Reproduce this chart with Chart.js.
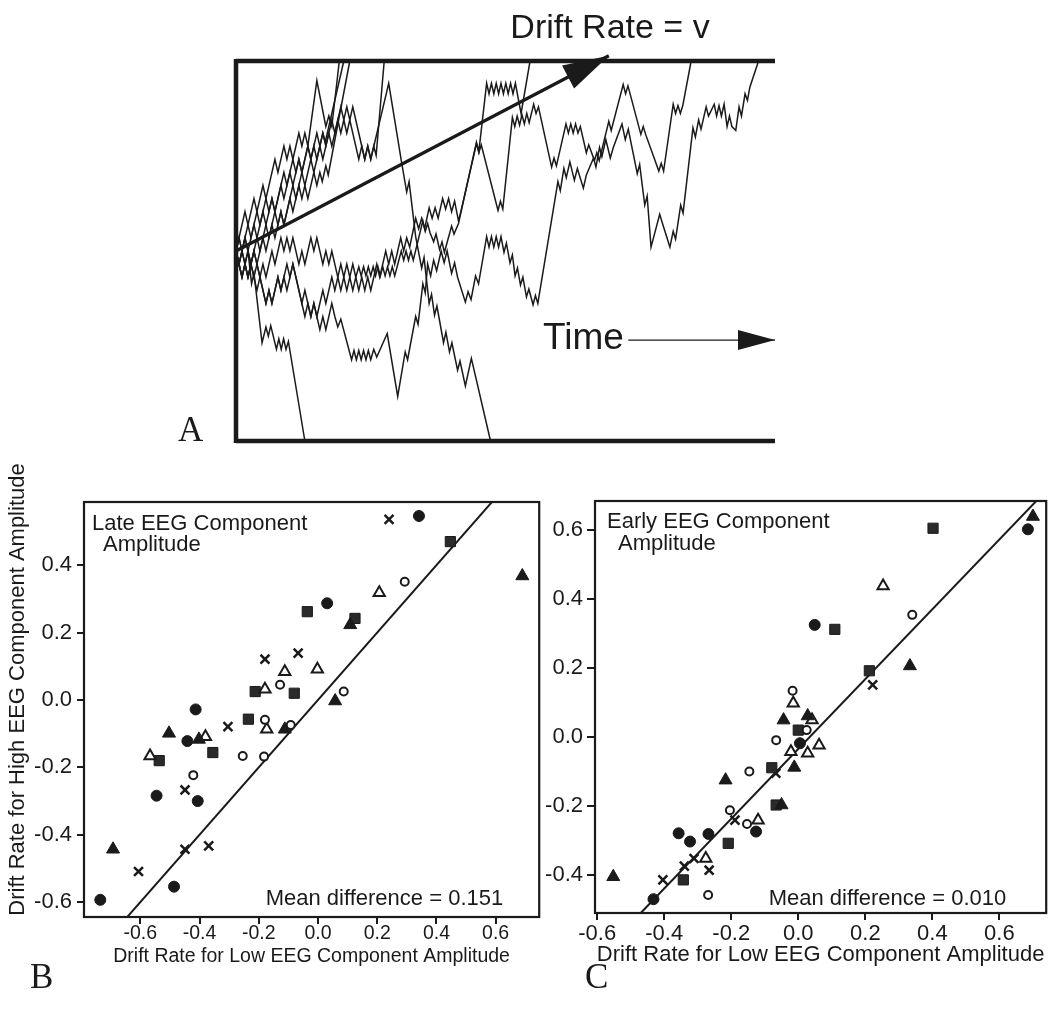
<!DOCTYPE html>
<html><head><meta charset="utf-8">
<script src="https://cdn.jsdelivr.net/npm/chart.js@4.4.1/dist/chart.umd.min.js"></script>
<style>
html,body{margin:0;padding:0;background:#fff;width:1055px;height:1010px;overflow:hidden}
.wrap{position:absolute}
.lbl{position:absolute;font-family:"Liberation Serif","Times New Roman",serif;font-size:35px;color:#1a1a1a;line-height:1}
</style></head><body>
<div class="wrap" style="left:226px;top:0;width:560px;height:460px"><canvas id="cA"></canvas></div>
<div class="wrap" style="left:0;top:440px;width:548px;height:540px"><canvas id="cB"></canvas></div>
<div class="wrap" style="left:545px;top:480px;width:510px;height:500px"><canvas id="cC"></canvas></div>
<div class="lbl" style="left:178px;top:412px">A</div>
<div class="lbl" style="left:30px;top:959px">B</div>
<div class="lbl" style="left:585px;top:959px">C</div>
<script>
// ---------------- Panel A: diffusion paths (time step, evidence step; bounds 0 and 29, start 14.5)
const pathA1 = [[0,14.5],[3,17.5],[4,16.5],[6,18.5],[7,17.5],[9,19.5],[10,18.5],[13,21.5],[14,20.5],[16,22.5],[17,21.5],[18,22.5],[19,21.5],[21,23.5],[22,22.5],[23,23.5],[24,22.5],[27,27.5],[30,24],[31,24.8],[32,24],[34.5,29]];
const pathA2 = [[0,14.5],[1,13.5],[3,15.5],[4,14.5],[7,17.5],[8,16.5],[10,18.5],[11,17.5],[12,18.5],[13,17.5],[16,20.5],[17,19.5],[19,21.5],[20,20.5],[21,21.5],[22,20.5],[24,22.5],[25,21.5],[27,23.5],[28,22.5],[29,23.5],[29.8,22.8],[36,29]];
const pathA3 = [[0,14.5],[2,12.5],[3,13.5],[4,12.5],[6,14.5],[7,13.5],[9,15.5],[10,14.5],[12,16.5],[13,15.5],[15,17.5],[16,16.5],[18,18.5],[19,17.5],[21,19.5],[22,18.5],[23,19.5],[24,18.5],[26,20.5],[27,19.5],[28,20.5],[28.8,19.8],[30,21],[30.8,20.3],[38,29]];
const pathA4 = [[0,14.5],[1,15.5],[2,14.5],[4,16.5],[5,15.5],[6,16.5],[7,15.5],[9,17.5],[10,16.5],[12,18.5],[13,17.5],[15,19.5],[16,18.5],[18,20.5],[19,19.5],[21,21.5],[22,20.5],[24,22.5],[25,21.5],[26,22.5],[27,21.5],[29,23.5],[30,22.5],[32,24.5],[33,23.5],[35,25.5],[36,24.5],[37,25.5],[38,24.5],[39,25.5],[40,24.5],[43,21.5],[44,22.5],[45,21.5],[46,22.5],[46.8,21.8],[49.5,29]];
const pathA5 = [[0,14.5],[2,12.5],[3,13.5],[4,12.5],[7,15.5],[8,14.5],[10,16.5],[11,15.5],[13,17.5],[14,16.5],[15,17.5],[16,16.5],[19,19.5],[20,18.5],[22,20.5],[23,19.5],[25,21.5],[26,20.5],[28,22.5],[29,21.5],[31,23.5],[32,22.5],[34,24.5],[35,23.5],[36,24.5],[37,23.5],[38,24.5],[39,23.5],[41,21.5],[42,22.5],[43,21.5],[44,22.5],[45,21.5],[51,27.3],[55.2,21.4],[57,19],[57.8,19.8],[60,15.6],[62,13.2],[62.8,14],[64.5,10.5],[65.3,11.2],[66.3,9.6],[67.1,10.3],[69.3,7.5],[70.1,8.3],[71.3,6.8],[72.1,7.5],[74,5.4],[74.8,6.1],[76.6,4.2],[78.6,6.3],[85,0]];
const pathA6 = [[0,14.5],[1,13.5],[2,14.5],[3,13.5],[4,14.5],[5.2,12],[6,12.8],[8.7,7.5],[10,8.7],[10.8,8],[11.6,8.8],[13.5,7],[14.3,7.8],[15.1,7],[15.9,7.8],[16.7,7],[17.5,7.6],[23,0]];
const pathA7 = [[0,14.5],[2,12.5],[3,13.5],[4,12.5],[5,13.5],[7,11.5],[8,12.5],[10,10.5],[11,11.5],[12,10.5],[14,12.5],[15,11.5],[17,13.5],[18,12.5],[19,13.5],[20,12.5],[23,9.5],[24,10.5],[25,9.5],[26,10.5],[28,8.5],[29,9.5],[30,8.5],[32,10.5],[33,9.5],[34,8.7],[35,9.3],[38.6,6.2],[39.4,6.9],[40.2,6.2],[41,6.9],[41.8,6.2],[42.6,6.9],[43.4,6.2],[44.2,6.9],[45,6.2],[46,7],[47,6.4],[50.5,8.2],[54,3.4],[56.5,6.8],[57.3,6.2],[60,9.5],[60.8,8.9],[62.4,12],[63.2,11.3],[64,13.5],[65,12.6],[66,13.8],[67,13],[68.5,14.5],[69.5,13.6],[70.5,14.5],[72,12.8],[73,13.6],[74,12.5],[76.6,10.6],[77.5,11.4],[78.5,10.8],[80,12.6],[81,12],[83.7,15.6],[84.5,14.8],[85.3,15.6],[86.1,14.8],[86.9,15.6],[87.7,14.8],[88.5,15.6],[89.5,14.4],[90.3,15.1],[91.5,13.6],[92.3,14.2],[93.2,12.6],[94,13.2],[95,11.9],[95.8,12.5],[97,11],[97.8,11.6],[99.2,10.4],[100,11.1],[100.8,10.5],[107.5,19.8],[108.3,19.1],[109.5,20.8],[110.3,20.1],[111.5,21.3],[113,19.9],[114,20.8],[116,19.3],[117,20.3],[119.4,21.6],[120.2,20.9],[121.4,22.4],[122.2,21.7],[123.5,23],[125,21.6],[126,22.4],[128.9,24.2],[130,23],[131,23.8],[134,20.4],[134.8,21.1],[136.5,18],[137.3,18.7],[138.6,14.8],[141.5,17.3],[142.3,16.7],[144.9,14.8],[146,16],[146.8,15.4],[148.5,18],[149.3,17.4],[152.6,23.9],[153.4,23.2],[154.5,24.5],[155.3,23.8],[157,25.5],[157.8,24.8],[159.7,25.7],[160.5,24.8],[161.3,25.6],[162.1,24.8],[163,25.7],[164,24],[164.8,24.8],[165.6,24],[166.9,23.7],[168,25.5],[168.8,24.8],[170,26.5],[170.8,26],[171.6,27],[174.5,29]];
const pathA8 = [[0,14.5],[1,15.5],[2,14.5],[3,15.5],[5,13.5],[6,14.5],[8,12.5],[9,13.5],[10,12.5],[12,14.5],[13,13.5],[15,15.5],[16,14.5],[17,15.5],[18,14.5],[19,15.5],[21,13.5],[22,14.5],[23,13.5],[25,15.5],[26,14.5],[27,15.5],[29,13.5],[30,14.5],[31,13.5],[32,14.5],[33,13.5],[35,11.5],[36,12.5],[37,11.5],[38,12.5],[39,11.5],[40,12.5],[41,11.5],[42,12.5],[43,11.5],[44,12.5],[45,11.5],[47,13.5],[48,12.5],[50,14.5],[51,13.5],[52,14.5],[53,13.5],[55,15.5],[56,14.5],[57,15.5],[58,14.8],[60,17],[61,16.2],[62,17],[63,16.2],[64.5,17.8],[65.5,17],[66.5,17.8],[67.5,17],[69,18.5],[70,17.7],[71,18.5],[72,17.5],[73,18.3],[74.3,16.8],[75.1,17.5],[80.3,22.7],[81.1,22],[81.9,22.6],[87.5,17.6],[88.3,18.3],[89.1,17.7],[92.3,24.7],[93.1,24],[93.9,24.8],[94.7,24.1],[95.5,24.9],[96.3,24.2],[97.1,25],[97.9,24.3],[99.4,25.7],[100.2,25],[101,25.5],[105.4,20.9],[106.2,21.6],[107,21],[110.2,24.2],[111,23.5],[111.8,24.2],[112.6,23.5],[113.4,24.2],[114.2,23.5],[115,24],[117,22],[117.8,22.6],[119.7,21.4],[120.5,22],[121.3,21.4],[124.5,24.4],[125.3,23.7],[126.1,24.4],[129.3,27.2],[130.1,26.5],[130.9,27.1],[135.2,23.4],[136,24],[136.8,23.4],[141.2,20.6],[142,21.2],[142.8,20.6],[146,25.7],[146.8,25],[147.6,25.6],[148.4,25],[149.2,25.6],[152,29]];
const pathA9 = [[0,14.5],[1,13.5],[2,14.5],[3,13.5],[4,14.5],[6,12.5],[7,13.5],[8,12.5],[10,10.5],[11,11.5],[12,10.5],[14,12.5],[15,11.5],[16,12.5],[17,11.5],[19,13.5],[20,12.5],[22,10.5],[23,11.5],[25,9.5],[26,10.5],[27,9.5],[29,11.5],[30,10.5],[32,12.5],[33,11.5],[35,13.5],[36,12.5],[37,13.5],[38,12.5],[39,13.5],[40,12.5],[41,13.3],[41.8,12.6],[42.6,13.3],[43.4,12.6],[44.2,13.3],[45,12.6],[45.8,13.3],[46.6,12.6],[47.4,13.3],[48.2,12.6],[49,13.3],[49.8,12.6],[50.6,13.3],[51.4,12.6],[52.2,13.3],[53,12.6],[55.2,14.5],[56,13.8],[56.8,14.5],[57.6,13.8],[58.4,14.5],[59.2,13.8],[62.4,16.8],[63.2,16],[64,16.6],[64.8,15.9],[66,15.2],[66.8,15.8],[68,14.6],[68.8,15.2],[69.6,14.4],[72,16.4],[72.8,15.8],[74.3,16.6],[80.3,22.8],[81.1,22.1],[83.7,27.3],[84.5,26.5],[85.3,27.3],[86.1,26.5],[86.9,27.3],[87.7,26.5],[88.5,27.3],[89.3,26.5],[90.1,27.3],[90.9,26.5],[91.7,27.3],[92.5,26.5],[93.3,27.3],[95.2,25],[98.2,29]];
const panelAPaths = [pathA1,pathA2,pathA3,pathA4,pathA5,pathA6,pathA7,pathA8,pathA9];
const panelARange = {x:[0,180], y:[0,29]};
const driftArrow = [[0,14.5],[124.5,29.4]];
const timeArrow = [[131,7.7],[180,7.7]];
const timeLabelAt = [102.5,7.7];

// ---------------- Panel B (Late EEG component)
const bFilledCircle = [[0.341,0.546],[0.031,0.287],[-0.413,-0.028],[-0.441,-0.122],[-0.545,-0.284],[-0.406,-0.300],[-0.486,-0.554],[-0.735,-0.593]];
const bOpenCircle   = [[0.293,0.351],[-0.128,0.045],[0.087,0.025],[-0.179,-0.059],[-0.092,-0.074],[-0.254,-0.166],[-0.182,-0.168],[-0.421,-0.223]];
const bFilledTri    = [[0.690,0.368],[0.109,0.223],[0.058,-0.003],[-0.112,-0.087],[-0.503,-0.099],[-0.402,-0.117],[-0.692,-0.443]];
const bOpenTri      = [[0.207,0.318],[-0.112,0.084],[-0.002,0.091],[-0.179,0.032],[-0.173,-0.087],[-0.380,-0.109],[-0.567,-0.166]];
const bFilledSquare = [[0.447,0.470],[-0.036,0.262],[0.125,0.242],[-0.212,0.025],[-0.080,0.020],[-0.235,-0.057],[-0.355,-0.156],[-0.536,-0.180]];
const bCross        = [[0.240,0.536],[-0.179,0.121],[-0.067,0.139],[-0.304,-0.079],[-0.449,-0.267],[-0.449,-0.443],[-0.369,-0.433],[-0.606,-0.509]];
const refLineB = [[-0.8,-0.8],[0.8,0.8]];
const rangeB = {x:[-0.79,0.747], y:[-0.644,0.5875]};
const xTicksB = [-0.6,-0.4,-0.2,0.0,0.2,0.4,0.6];
const yTicksB = [-0.6,-0.4,-0.2,0.0,0.2,0.4];

// ---------------- Panel C (Early EEG component)
const cFilledCircle = [[0.685,0.602],[0.049,0.325],[0.005,-0.018],[-0.126,-0.274],[-0.357,-0.279],[-0.323,-0.303],[-0.268,-0.281],[-0.432,-0.470]];
const cOpenCircle   = [[0.340,0.354],[-0.017,0.134],[0.025,0.020],[-0.066,-0.009],[-0.146,-0.100],[-0.204,-0.212],[-0.153,-0.252],[-0.269,-0.458]];
const cFilledTri    = [[0.700,0.639],[0.333,0.206],[-0.044,0.049],[0.028,0.061],[-0.012,-0.088],[-0.217,-0.125],[-0.050,-0.197],[-0.552,-0.405]];
const cOpenTri      = [[0.253,0.438],[-0.015,0.098],[0.041,0.049],[0.062,-0.024],[-0.022,-0.043],[0.028,-0.047],[-0.120,-0.241],[-0.276,-0.352]];
const cFilledSquare = [[0.402,0.605],[0.109,0.312],[0.212,0.192],[0.0,0.020],[-0.079,-0.089],[-0.066,-0.197],[-0.209,-0.308],[-0.343,-0.414]];
const cCross        = [[0.222,0.151],[-0.067,-0.105],[-0.189,-0.241],[-0.311,-0.352],[-0.340,-0.374],[-0.266,-0.386],[-0.404,-0.414]];
const refLineC = [[-0.47,-0.51],[0.72,0.694]];
const rangeC = {x:[-0.6065,0.7396], y:[-0.510,0.684]};
const xTicksC = [-0.6,-0.4,-0.2,0.0,0.2,0.4,0.6];
const yTicksC = [-0.4,-0.2,0.0,0.2,0.4,0.6];

// ---------------- rendering
const INK = '#1a1a1a';
const SANS = '"Liberation Sans", Arial, Helvetica, sans-serif';
Chart.defaults.font.family = SANS;
Chart.defaults.color = INK;
const toXY = arr => arr.map(([x,y]) => ({x, y}));
const fmt = v => (Math.abs(v) < 1e-9 ? '0.0' : v.toFixed(1));

function head(ctx, x0, y0, x1, y1, len, wid) {
  const a = Math.atan2(y1 - y0, x1 - x0);
  const bx = x1 - Math.cos(a) * len, by = y1 - Math.sin(a) * len;
  const px = -Math.sin(a) * wid / 2, py = Math.cos(a) * wid / 2;
  ctx.beginPath();
  ctx.moveTo(x1, y1);
  ctx.lineTo(bx + px, by + py);
  ctx.lineTo(bx - px, by - py);
  ctx.closePath();
  ctx.fill();
}

const panelAPlugin = {
  id: 'panelA',
  afterDatasetsDraw(chart) {
    const {ctx, chartArea: a, scales: {x, y}} = chart;
    ctx.save();
    ctx.strokeStyle = INK; ctx.fillStyle = INK;
    ctx.lineWidth = 4.5;
    ctx.beginPath();
    ctx.moveTo(a.left, a.top); ctx.lineTo(a.right, a.top);
    ctx.moveTo(a.left, a.bottom); ctx.lineTo(a.right, a.bottom);
    ctx.moveTo(a.left, a.top - 2); ctx.lineTo(a.left, a.bottom + 2);
    ctx.stroke();
    const d0 = driftArrow[0], d1 = driftArrow[1];
    head(ctx, x.getPixelForValue(d0[0]), y.getPixelForValue(d0[1]), x.getPixelForValue(d1[0]), y.getPixelForValue(d1[1]), 46, 26);
    const t0 = timeArrow[0], t1 = timeArrow[1];
    head(ctx, x.getPixelForValue(t0[0]), y.getPixelForValue(t0[1]), x.getPixelForValue(t1[0]), y.getPixelForValue(t1[1]), 37, 20);
    ctx.font = '37px ' + SANS;
    ctx.textAlign = 'left'; ctx.textBaseline = 'middle';
    ctx.fillText('Time', x.getPixelForValue(timeLabelAt[0]), y.getPixelForValue(timeLabelAt[1]) - 1);
    ctx.font = '34px ' + SANS;
    ctx.textAlign = 'center'; ctx.textBaseline = 'alphabetic';
    ctx.fillText('Drift Rate = v', 384, 38);
    ctx.restore();
  }
};

new Chart(document.getElementById('cA'), {
  type: 'scatter',
  data: {
    datasets: [
      {data: toXY(driftArrow), showLine: true, borderColor: INK, borderWidth: 3.2, pointRadius: 0, clip: false},
      {data: toXY(timeArrow), showLine: true, borderColor: INK, borderWidth: 1.2, pointRadius: 0, clip: false},
      ...panelAPaths.map(p => ({data: toXY(p), showLine: true, borderColor: INK, borderWidth: 1.5, pointRadius: 0, tension: 0, clip: false}))
    ]
  },
  options: {
    animation: false, responsive: true, maintainAspectRatio: false, events: [],
    layout: {padding: {left: 10, right: 11, top: 61, bottom: 19}},
    scales: {
      x: {type: 'linear', display: false, min: panelARange.x[0], max: panelARange.x[1]},
      y: {type: 'linear', display: false, min: panelARange.y[0], max: panelARange.y[1]}
    },
    plugins: {legend: {display: false}, tooltip: {enabled: false}}
  },
  plugins: [panelAPlugin]
});

function markerSets(fc, oc, ft, ot, fs, cr, line) {
  return [
    {data: toXY(fc), pointStyle: 'circle', pointRadius: 5.5, backgroundColor: INK, borderColor: INK, borderWidth: 1},
    {data: toXY(oc), pointStyle: 'circle', pointRadius: 4, backgroundColor: '#fff', borderColor: INK, borderWidth: 2},
    {data: toXY(ft), pointStyle: 'triangle', pointRadius: 7.5, backgroundColor: INK, borderColor: INK, borderWidth: 1},
    {data: toXY(ot), pointStyle: 'triangle', pointRadius: 6.5, backgroundColor: '#fff', borderColor: INK, borderWidth: 2},
    {data: toXY(fs), pointStyle: 'rect', pointRadius: 7.2, backgroundColor: '#2a2a2a', borderColor: INK, borderWidth: 1},
    {data: toXY(cr), pointStyle: 'crossRot', pointRadius: 6.3, backgroundColor: INK, borderColor: INK, borderWidth: 2.5},
    {data: toXY(line), showLine: true, pointRadius: 0, borderColor: INK, borderWidth: 2}
  ];
}

const framePlugin = {
  id: 'frame',
  afterDraw(chart, args, opts) {
    const {ctx, chartArea: a} = chart;
    ctx.save();
    ctx.strokeStyle = INK; ctx.fillStyle = INK;
    ctx.lineWidth = 2.2;
    ctx.strokeRect(a.left, a.top, a.right - a.left, a.bottom - a.top);
    ctx.font = '22px ' + SANS;
    ctx.textBaseline = 'alphabetic';
    for (const t of opts.texts) {
      ctx.textAlign = t.align;
      const px = t.ref === 'r' ? a.right + t.dx : a.left + t.dx;
      const py = t.vref === 'b' ? a.bottom + t.dy : a.top + t.dy;
      ctx.fillText(t.text, px, py);
    }
    if (opts.yTitle) {
      ctx.save();
      ctx.translate(opts.yTitle.x, (a.top + a.bottom) / 2 + opts.yTitle.dy);
      ctx.rotate(-Math.PI / 2);
      ctx.textAlign = 'center'; ctx.textBaseline = 'middle';
      ctx.fillText(opts.yTitle.text, 0, 0);
      ctx.restore();
    }
    ctx.restore();
  }
};

function scatterPanel(id, sets, range, xTicks, yTicks, geom, texts, yTitle) {
  new Chart(document.getElementById(id), {
    type: 'scatter',
    data: {datasets: sets},
    options: {
      animation: false, responsive: true, maintainAspectRatio: false, events: [],
      layout: {padding: {left: 0, right: geom.padRight, top: geom.padTop, bottom: 0}},
      scales: {
        x: {
          type: 'linear', min: range.x[0], max: range.x[1],
          afterBuildTicks: s => { s.ticks = xTicks.map(v => ({value: v})); },
          afterFit: s => { s.height = geom.xHeight; },
          ticks: {callback: v => fmt(v), font: {size: geom.xFont}, color: INK, padding: geom.xPad, maxRotation: 0, autoSkip: false},
          grid: {drawOnChartArea: false, drawTicks: true, tickLength: 7, color: INK, lineWidth: 2},
          border: {display: true, color: INK, width: 2},
          title: {display: true, text: 'Drift Rate for Low EEG Component Amplitude', font: {size: geom.xFont}, color: INK, padding: {top: 0, bottom: geom.titlePad}}
        },
        y: {
          type: 'linear', min: range.y[0], max: range.y[1],
          afterBuildTicks: s => { s.ticks = yTicks.map(v => ({value: v})); },
          afterFit: s => { s.width = geom.yWidth; },
          ticks: {callback: v => fmt(v), font: {size: 22}, color: INK, padding: geom.yPad, autoSkip: false},
          grid: {drawOnChartArea: false, drawTicks: true, tickLength: geom.yTick, color: INK, lineWidth: 2},
          border: {display: true, color: INK, width: 2}
        }
      },
      plugins: {legend: {display: false}, tooltip: {enabled: false}, frame: {texts, yTitle}}
    },
    plugins: [framePlugin]
  });
}

scatterPanel('cB',
  markerSets(bFilledCircle, bOpenCircle, bFilledTri, bOpenTri, bFilledSquare, bCross, refLineB),
  rangeB, xTicksB, yTicksB,
  {padRight: 5, padTop: 62, xHeight: 63, yWidth: 84, xFont: 19.5, xPad: -2, titlePad: 12, yPad: 5, yTick: 7},
  [
    {text: 'Late EEG Component', dx: 8, dy: 28, align: 'left'},
    {text: 'Amplitude', dx: 19, dy: 49, align: 'left'},
    {text: 'Mean difference = 0.151', ref: 'r', vref: 'b', dx: -36, dy: -12, align: 'right'}
  ],
  {text: 'Drift Rate for High EEG Component Amplitude', x: 18, dy: -20}
);

scatterPanel('cC',
  markerSets(cFilledCircle, cOpenCircle, cFilledTri, cOpenTri, cFilledSquare, cCross, refLineC),
  rangeC, xTicksC, yTicksC,
  {padRight: 5, padTop: 21, xHeight: 67, yWidth: 50, xFont: 22, xPad: 1, titlePad: 12, yPad: 4, yTick: 8},
  [
    {text: 'Early EEG Component', dx: 12, dy: 27, align: 'left'},
    {text: 'Amplitude', dx: 23, dy: 49, align: 'left'},
    {text: 'Mean difference = 0.010', ref: 'r', vref: 'b', dx: -40, dy: -8, align: 'right'}
  ],
  null
);
</script>
</body></html>
